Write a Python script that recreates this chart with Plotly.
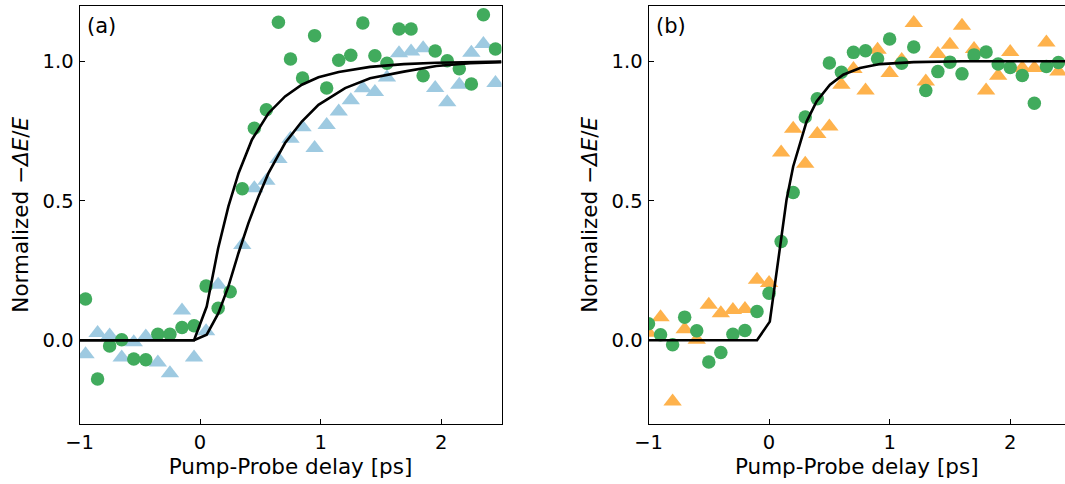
import plotly.graph_objects as go

# ---------------- data ----------------
# Panel (a)
a_green_x = [-0.95, -0.85, -0.75, -0.65, -0.55, -0.45, -0.35, -0.25, -0.15, -0.05,
             0.05, 0.15, 0.25, 0.35, 0.45, 0.55, 0.65, 0.75, 0.85, 0.95,
             1.05, 1.15, 1.25, 1.35, 1.45, 1.55, 1.65, 1.75, 1.85, 1.95,
             2.05, 2.15, 2.25, 2.35, 2.45]
a_green_y = [0.148, -0.139, -0.02, 0.002, -0.067, -0.07, 0.022, 0.022, 0.046, 0.052,
             0.195, 0.115, 0.174, 0.543, 0.76, 0.826, 1.14, 1.008, 0.94, 1.092,
             0.904, 1.004, 1.022, 1.137, 1.02, 0.993, 1.116, 1.116, 0.948, 1.037,
             1.002, 0.973, 0.919, 1.167, 1.044]

a_blue_x = [-0.95, -0.85, -0.75, -0.65, -0.55, -0.45, -0.35, -0.25, -0.15, -0.05,
            0.05, 0.15, 0.35, 0.45, 0.55, 0.65, 0.75, 0.85, 0.95,
            1.05, 1.15, 1.25, 1.35, 1.45, 1.55, 1.65, 1.75, 1.85, 1.95,
            2.05, 2.15, 2.25, 2.35, 2.45]
a_blue_y = [-0.05, 0.026, 0.017, -0.062, -0.007, 0.014, -0.08, -0.118, 0.107, -0.062,
            0.032, 0.199, 0.342, 0.545, 0.572, 0.65, 0.722, 0.764, 0.689,
            0.772, 0.82, 0.86, 0.903, 0.89, 0.942, 1.029, 1.035, 1.047, 0.904,
            0.853, 0.916, 1.031, 1.062, 0.922]

a_fit1_x = [-1.0, -0.05, 0.055, 0.1, 0.15, 0.235, 0.32, 0.43, 0.567, 0.705,
            0.844, 0.982, 1.15, 1.41, 1.69, 1.96, 2.5]
a_fit1_y = [0.0, 0.0, 0.121, 0.22, 0.33, 0.48, 0.60, 0.719, 0.814, 0.874,
            0.916, 0.943, 0.962, 0.98, 0.99, 0.995, 0.999]

a_fit2_x = [-1.0, -0.05, 0.055, 0.152, 0.235, 0.318, 0.401, 0.484, 0.567, 0.705,
            0.844, 0.982, 1.203, 1.41, 1.69, 1.96, 2.24, 2.5]
a_fit2_y = [0.0, 0.0, 0.02, 0.097, 0.193, 0.312, 0.42, 0.515, 0.599, 0.707,
            0.784, 0.844, 0.904, 0.939, 0.963, 0.983, 0.993, 0.997]

# Panel (b)
b_x = [-1.0, -0.9, -0.8, -0.7, -0.6, -0.5, -0.4, -0.3, -0.2, -0.1,
       0.0, 0.1, 0.2, 0.3, 0.4, 0.5, 0.6, 0.7, 0.8, 0.9,
       1.0, 1.1, 1.2, 1.3, 1.4, 1.5, 1.6, 1.7, 1.8, 1.9,
       2.0, 2.1, 2.2, 2.3, 2.4, 2.5]
b_green_y = [0.059, 0.02, -0.016, 0.083, 0.034, -0.078, -0.044, 0.022, 0.035, 0.103,
             0.169, 0.354, 0.53, 0.8, 0.866, 0.994, 0.961, 1.032, 1.038, 1.009,
             1.08, 0.993, 1.051, 0.895, 0.963, 0.997, 0.955, 1.023, 1.033, 0.99,
             0.978, 0.949, 0.85, 0.981, 0.996, 0.88]
b_orange_y = [0.027, 0.083, -0.219, 0.04, 0.002, 0.127, 0.097, 0.109, 0.112, 0.217,
              0.205, 0.673, 0.758, 0.633, 0.739, 0.766, 0.916, 0.972, 0.895, 1.041,
              0.958, 1.005, 1.137, 0.928, 1.026, 1.059, 1.127, 1.044, 0.895, 0.948,
              1.033, 0.976, 0.976, 1.067, 0.963, 1.035]

b_fit_x = [-1.0, -0.1, 0.006, 0.047, 0.089, 0.145, 0.2, 0.255, 0.311, 0.394,
           0.505, 0.615, 0.754, 0.92, 1.2, 1.6, 2.5]
b_fit_y = [0.0, 0.0, 0.067, 0.193, 0.336, 0.504, 0.623, 0.707, 0.784, 0.856,
           0.916, 0.952, 0.976, 0.99, 0.997, 1.0, 1.0]

x_ticks = [-1, 0, 1, 2]
y_ticks = [0.0, 0.5, 1.0]
panel_labels = ["(a)", "(b)"]
x_title = "Pump-Probe delay [ps]"
y_title = "Normalized −<i>ΔE</i>/<i>E</i>"

# ---------------- styling ----------------
W, H = 1065, 484
GREEN = "#41ab5d"
BLUE = "#9ecae1"
ORANGE = "#feb24c"
FONT = "DejaVu Sans"
CIRC = 13.5
TRI = 16
LW = 2.6

fig = go.Figure()

# panel (a)
fig.add_trace(go.Scatter(x=a_blue_x, y=a_blue_y, mode="markers",
                         marker=dict(symbol="triangle-up", size=TRI, color=BLUE),
                         xaxis="x", yaxis="y"))
fig.add_trace(go.Scatter(x=a_green_x, y=a_green_y, mode="markers",
                         marker=dict(symbol="circle", size=CIRC, color=GREEN),
                         xaxis="x", yaxis="y"))
fig.add_trace(go.Scatter(x=a_fit1_x, y=a_fit1_y, mode="lines",
                         line=dict(color="black", width=LW), xaxis="x", yaxis="y"))
fig.add_trace(go.Scatter(x=a_fit2_x, y=a_fit2_y, mode="lines",
                         line=dict(color="black", width=LW), xaxis="x", yaxis="y"))

# panel (b)
fig.add_trace(go.Scatter(x=b_x[:-1], y=b_orange_y[:-1], mode="markers",
                         marker=dict(symbol="triangle-up", size=TRI, color=ORANGE),
                         xaxis="x2", yaxis="y2"))
fig.add_trace(go.Scatter(x=b_x[-1:], y=b_orange_y[-1:], mode="markers", cliponaxis=False,
                         marker=dict(symbol="triangle-up", size=TRI, color=ORANGE),
                         xaxis="x2", yaxis="y2"))
fig.add_trace(go.Scatter(x=b_x[:-1], y=b_green_y[:-1], mode="markers",
                         marker=dict(symbol="circle", size=CIRC, color=GREEN),
                         xaxis="x2", yaxis="y2"))
fig.add_trace(go.Scatter(x=b_x[-1:], y=b_green_y[-1:], mode="markers", cliponaxis=False,
                         marker=dict(symbol="circle", size=CIRC, color=GREEN),
                         xaxis="x2", yaxis="y2"))
fig.add_trace(go.Scatter(x=b_fit_x, y=b_fit_y, mode="lines",
                         line=dict(color="black", width=LW), xaxis="x2", yaxis="y2"))

# geometry in pixels
a_left, a_right = 79.5, 501.5
b_left = 648.5
px_per_ps = (a_right - a_left) / 3.5
top_px, bottom_px = 5.5, 424.0
ydom = [(H - bottom_px) / H, (H - top_px) / H]
b_xmax = -1 + (W - b_left) / px_per_ps

common_x = dict(tickvals=x_ticks, ticks="inside", ticklen=5, tickwidth=1, tickcolor="black",
                showline=True, linecolor="black", linewidth=1, showgrid=False, zeroline=False,
                automargin=False,
                tickfont=dict(family=FONT, size=19.5, color="black"),
                title=dict(text=x_title, font=dict(family=FONT, size=21.5, color="black"),
                           standoff=5),
                ticklabelstandoff=1)
common_y = dict(tickvals=y_ticks, tickformat=".1f", ticks="inside", ticklen=5, tickwidth=1,
                tickcolor="black", showline=True, linecolor="black", linewidth=1,
                showgrid=False, zeroline=False, range=[-0.3, 1.2], domain=ydom,
                automargin=False,
                tickfont=dict(family=FONT, size=19.5, color="black"),
                title=dict(text=y_title, font=dict(family=FONT, size=21.5, color="black"),
                           standoff=8),
                ticklabelstandoff=1)

fig.update_layout(
    width=W, height=H, autosize=False,
    margin=dict(l=0, r=0, t=0, b=0, pad=0),
    paper_bgcolor="white", plot_bgcolor="white",
    showlegend=False,
    font=dict(family=FONT, color="black"),
    xaxis=dict(domain=[a_left / W, a_right / W], range=[-1, 2.5], anchor="y",
               mirror=True, **common_x),
    yaxis=dict(anchor="x", mirror=True, **common_y),
    xaxis2=dict(domain=[b_left / W, 1.0], range=[-1, b_xmax], anchor="y2",
                mirror=True, **common_x),
    yaxis2=dict(anchor="x2", mirror=False, **common_y),
    annotations=[
        dict(text=panel_labels[0], x=85 / W, y=(H - 26) / H, xref="paper", yref="paper",
             xanchor="left", yanchor="middle", showarrow=False,
             font=dict(family=FONT, size=21, color="black")),
        dict(text=panel_labels[1], x=654 / W, y=(H - 26) / H, xref="paper", yref="paper",
             xanchor="left", yanchor="middle", showarrow=False,
             font=dict(family=FONT, size=21, color="black")),
    ],
)

fig.write_html("out.html")
